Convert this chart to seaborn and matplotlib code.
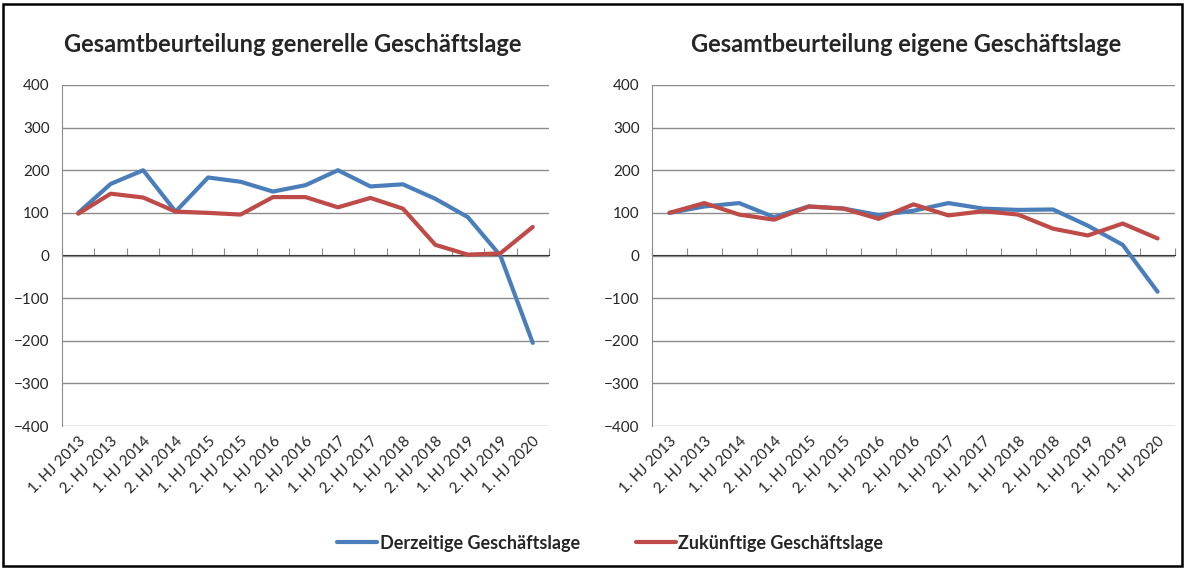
import seaborn as sns
import matplotlib.pyplot as plt
import matplotlib.patches as mpatches
import pandas as pd
import numpy as np

periods = ["1. HJ 2013", "2. HJ 2013", "1. HJ 2014", "2. HJ 2014", "1. HJ 2015",
           "2. HJ 2015", "1. HJ 2016", "2. HJ 2016", "1. HJ 2017", "2. HJ 2017",
           "1. HJ 2018", "2. HJ 2018", "1. HJ 2019", "2. HJ 2019", "1. HJ 2020"]

gen_current = [100, 168, 200, 103, 183, 173, 150, 165, 200, 162, 167, 133, 90, 0, -205]
gen_future = [98, 145, 136, 103, 100, 96, 137, 137, 113, 135, 110, 25, 2, 5, 67]

own_current = [100, 115, 123, 90, 115, 110, 95, 105, 123, 110, 107, 108, 70, 25, -85]
own_future = [100, 123, 96, 84, 115, 110, 86, 120, 94, 104, 96, 63, 47, 75, 40]

titles = ["Gesamtbeurteilung generelle Geschäftslage", "Gesamtbeurteilung eigene Geschäftslage"]
series_names = ["Derzeitige Geschäftslage", "Zukünftige Geschäftslage"]
colors = {"Derzeitige Geschäftslage": "#4A7EBB", "Zukünftige Geschäftslage": "#BE4B48"}

sns.set_style("white")
plt.rcParams['font.family'] = ['Lato', 'DejaVu Sans']

fig = plt.figure(figsize=(11.85, 5.68), dpi=100)
W, H = 1185, 568
boxes = [(62, 549), (652, 1175)]
title_x = [293, 906]
top_px, bot_px = 85, 426

for k, (cur, fut) in enumerate([(gen_current, gen_future), (own_current, own_future)]):
    x0, x1 = boxes[k]
    ax = fig.add_axes([x0 / W, 1 - bot_px / H, (x1 - x0) / W, (bot_px - top_px) / H])
    df = pd.DataFrame({
        "idx": list(range(len(periods))) * 2,
        "value": cur + fut,
        "series": [series_names[0]] * len(periods) + [series_names[1]] * len(periods),
    })
    sns.lineplot(data=df, x="idx", y="value", hue="series", palette=colors,
                 linewidth=3, ax=ax, legend=False)
    ax.set_xlim(-0.5, len(periods) - 0.5)
    ax.set_ylim(-400, 400)
    ax.set_yticks(np.arange(-400, 401, 100))
    ax.yaxis.grid(True, color="#8C8C8C", linewidth=1.0)
    ax.set_axisbelow(True)
    for s in ["top", "right", "bottom"]:
        ax.spines[s].set_visible(False)
    ax.spines["left"].set_color("#8C8C8C")
    ax.tick_params(axis="y", length=5, color="#8C8C8C", labelsize=11, pad=4)
    ax.set_xticks(range(len(periods)))
    ax.set_xticklabels(periods, rotation=45, ha="right", rotation_mode="anchor", fontsize=11)
    ax.tick_params(axis="x", length=0, pad=6)
    ax.set_xlabel("")
    ax.set_ylabel("")
    # category tick marks on zero line
    sec = ax.secondary_xaxis(0.5)
    sec.set_xticks(np.arange(-0.5, len(periods), 1.0))
    sec.set_xticklabels([])
    sec.tick_params(length=5, color="#8C8C8C", direction="out")
    sec.spines["bottom"].set_color("#8C8C8C")
    fig.text(title_x[k] / W, 1 - 45 / H, titles[k], ha="center", va="center",
             fontsize=17, fontweight="bold")

handles = [plt.Line2D([], [], color=colors[n], linewidth=3) for n in series_names]
fig.legend(handles, series_names, loc="center", bbox_to_anchor=(0.515, 1 - 543 / H),
           ncol=2, frameon=False, handlelength=2.2, handletextpad=0.15, columnspacing=3.1,
           prop={"weight": "bold", "size": 13})

fig.patches.append(mpatches.Rectangle((3 / W, 2 / H), 1 - 6 / W, 1 - 6 / H,
                                      transform=fig.transFigure, fill=False,
                                      edgecolor="black", linewidth=1.8))

fig.savefig("out.png", dpi=100)
